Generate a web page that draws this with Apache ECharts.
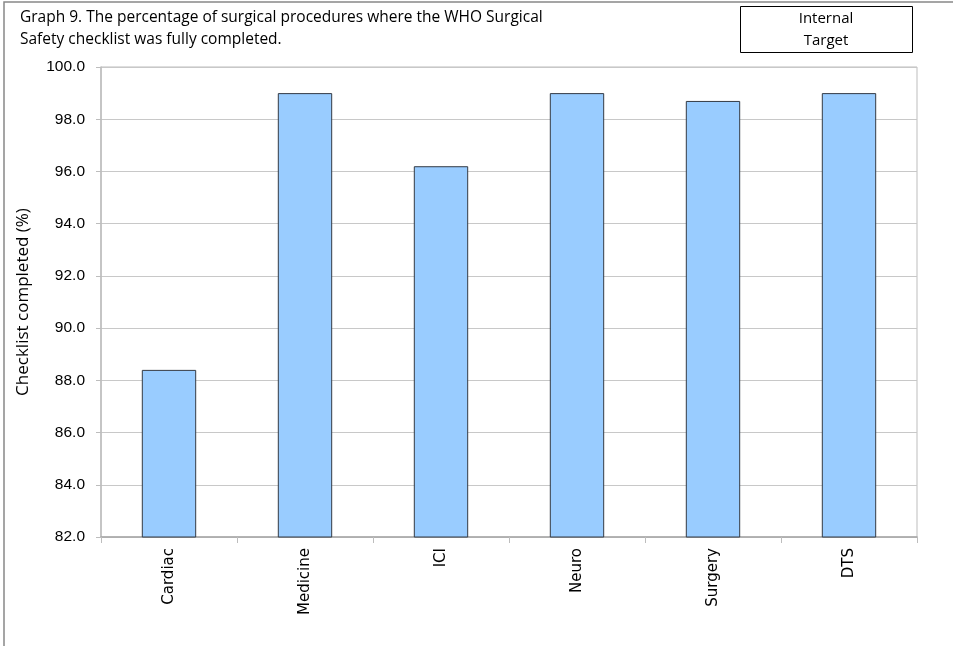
<!DOCTYPE html>
<html>
<head>
<meta charset="utf-8">
<script src="https://cdn.jsdelivr.net/npm/echarts@6/dist/echarts.min.js"></script>
<style>
html,body{margin:0;padding:0;background:#fff;}
#chart{width:953px;height:646px;}
</style>
</head>
<body>
<div id="chart"></div>
<script>
// Checklist completion per department
const categories = ['Cardiac', 'Medicine', 'ICI', 'Neuro', 'Surgery', 'DTS'];
const completedPct = [88.4, 99.0, 96.2, 99.0, 98.7, 99.0];
const yMin = 82, yMax = 100, yStep = 2;

const chart = echarts.init(document.getElementById('chart'), null, {renderer: 'canvas'});
const textFont = '"Open Sans", "Liberation Sans", sans-serif';
const numFont = '"Liberation Sans", Arial, sans-serif';

chart.setOption({
  backgroundColor: '#ffffff',
  animation: false,
  graphic: [
    // outer frame
    { type: 'polyline', shape: { points: [[4, 646], [4, 2], [953, 2]] },
      style: { stroke: '#888', lineWidth: 1.5, fill: null } },
    { type: 'text', left: 20, top: 7,
      style: { text: 'Graph 9. The percentage of surgical procedures where the WHO Surgical\nSafety checklist was fully completed.',
               font: '15.5px ' + textFont, fill: '#000', lineHeight: 22 } },
    { type: 'rect', shape: { x: 740.5, y: 6.5, width: 172, height: 46 },
      style: { fill: '#fff', stroke: '#000', lineWidth: 1 } },
    { type: 'text', x: 826, y: 30,
      style: { text: 'Internal\nTarget', font: '15px ' + textFont, fill: '#000',
               align: 'center', verticalAlign: 'middle', lineHeight: 22 } }
  ],
  grid: { left: 101, right: 36, top: 67, bottom: 109, show: true,
          borderColor: '#bdbdbd', borderWidth: 1 },
  xAxis: {
    type: 'category',
    data: categories,
    axisLine: { lineStyle: { color: '#a6a6a6', width: 1.5 } },
    axisTick: { show: true, length: 6, lineStyle: { color: '#bdbdbd' }, alignWithLabel: false },
    axisLabel: { rotate: 90, color: '#000', fontFamily: '"DejaVu Sans", sans-serif', fontSize: 15, margin: 11 }
  },
  yAxis: {
    type: 'value',
    min: yMin, max: yMax, interval: yStep,
    name: 'Checklist completed (%)',
    nameLocation: 'middle', nameGap: 69,
    nameTextStyle: { color: '#000', fontFamily: textFont, fontSize: 17 },
    axisLine: { show: true, lineStyle: { color: '#bdbdbd', width: 1.5 } },
    axisTick: { show: true, length: 5, lineStyle: { color: '#bdbdbd' } },
    axisLabel: { color: '#000', fontFamily: numFont, fontSize: 15.5, margin: 16,
                 formatter: v => v.toFixed(1) },
    splitLine: { lineStyle: { color: '#c8c8c8', width: 1 } }
  },
  series: [{
    type: 'bar',
    data: completedPct,
    barWidth: '40%',
    itemStyle: { color: '#99ccff', borderColor: '#333a44', borderWidth: 1 }
  }]
});
</script>
</body>
</html>
